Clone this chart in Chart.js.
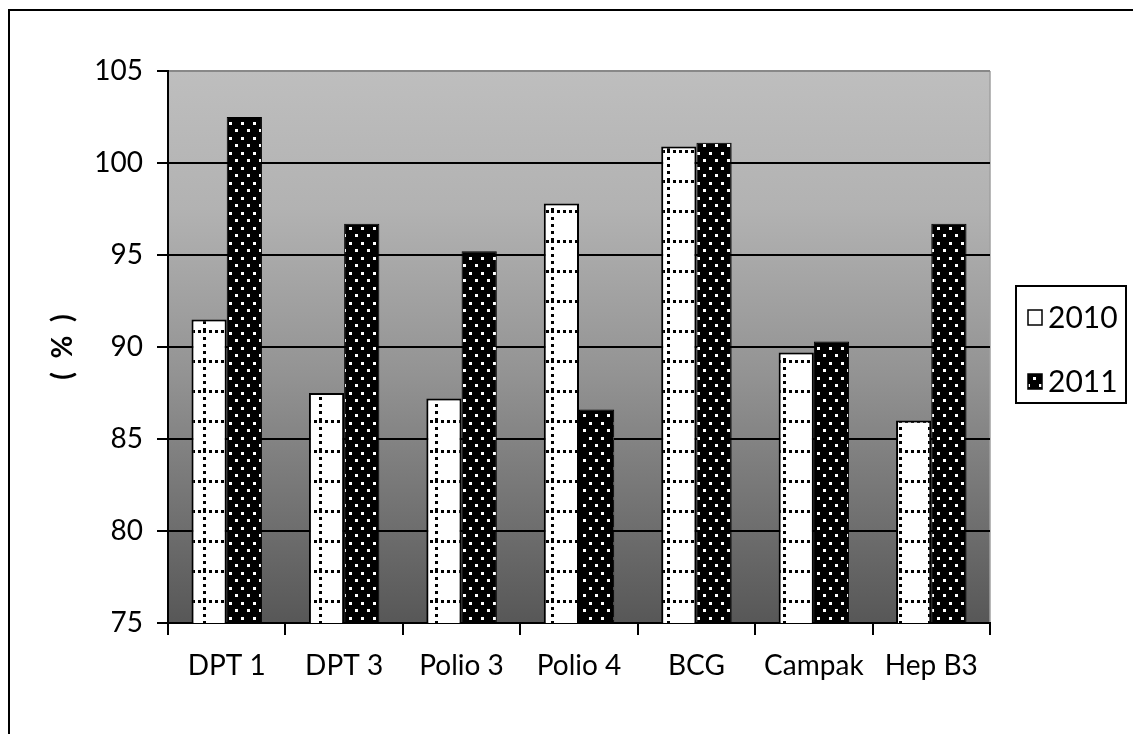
<!DOCTYPE html>
<html>
<head>
<meta charset="utf-8">
<script src="https://cdn.jsdelivr.net/npm/chart.js"></script>
<style>
body{margin:0;background:#fff;}
#wrap{width:1133px;height:734px;}
</style>
</head>
<body>
<div id="wrap"><canvas id="chart" width="1133" height="734"></canvas></div>
<script>

// data
const labels=["DPT 1","DPT 3","Polio 3","Polio 4","BCG","Campak","Hep B3"];
const v2010=[91.5,87.5,87.2,97.8,100.9,89.7,86.0];
const v2011=[102.5,96.7,95.2,86.6,101.1,90.3,96.7];
const seriesNames=["2010","2011"];
const yMin=75,yMax=105,yStep=5;

const FONT="Lato";

function pattern2010(ctx){
const c=document.createElement("canvas");
c.width=29;c.height=30;
const g=c.getContext("2d");
g.fillStyle="#fff";
g.fillRect(0,0,29,30);
g.fillStyle="#000";
for(let x=0;x<29;x+=6)g.fillRect(x,0,3,3);
for(let y=0;y<30;y+=7)g.fillRect(0,y,3,3);
return ctx.createPattern(c,"repeat");
}

function pattern2011(ctx){
const c=document.createElement("canvas");
c.width=12;c.height=15;
const g=c.getContext("2d");
g.fillStyle="#000";
g.fillRect(0,0,12,15);
g.fillStyle="#fff";
g.fillRect(1,2,3,3);
g.fillRect(7,9,3,3);
return ctx.createPattern(c,"repeat");
}

const canvas=document.getElementById("chart");
const ctx=canvas.getContext("2d");
const p2010=pattern2010(ctx);
const p2011=pattern2011(ctx);

const frame={
id:"frame",
beforeDraw(chart){
const c=chart.ctx;
const a=chart.chartArea;
c.save();
c.fillStyle="#fff";
c.fillRect(0,0,chart.width,chart.height);
c.strokeStyle="#000";
c.lineWidth=2;
c.strokeRect(9,10,chart.width+20,chart.height+20);
const gr=c.createLinearGradient(0,a.top,0,a.bottom);
gr.addColorStop(0,"#bebebe");
gr.addColorStop(0.25,"#b2b2b2");
gr.addColorStop(0.55,"#939393");
gr.addColorStop(1,"#575757");
c.fillStyle=gr;
c.fillRect(a.left,a.top,a.right-a.left,a.bottom-a.top);
c.strokeStyle="#a0a0a0";
c.lineWidth=1.5;
c.beginPath();
c.moveTo(a.right,a.top);
c.lineTo(a.right,a.bottom);
c.stroke();
c.restore();
},
afterDraw(chart){
const c=chart.ctx;
c.save();
c.fillStyle="#fff";
c.fillRect(1016,286,110,117);
c.strokeStyle="#000";
c.lineWidth=2;
c.strokeRect(1016,286,110,117);
const rows=[317,381];
chart.data.datasets.forEach((ds,i)=>{
const y=rows[i];
c.fillStyle=ds.backgroundColor;
c.fillRect(1028,y-7,14,15);
c.strokeStyle="#000";
c.lineWidth=1.5;
c.strokeRect(1028,y-7,14,15);
c.fillStyle="#000";
c.font="30px "+FONT;
c.textBaseline="middle";
c.textAlign="left";
c.fillText(ds.label,1048,y+1);
});
c.restore();
}
};

new Chart(canvas,{
type:"bar",
data:{
labels:labels,
datasets:[{
label:seriesNames[0],
data:v2010,
backgroundColor:p2010,
borderColor:"#000",
borderWidth:2
},{
label:seriesNames[1],
data:v2011,
backgroundColor:p2011,
borderColor:"#000",
borderWidth:1
}]
},
options:{
responsive:false,
animation:false,
layout:{padding:{top:71,right:143,bottom:0,left:0}},
plugins:{legend:{display:false},tooltip:{enabled:false}},
datasets:{bar:{categoryPercentage:0.6,barPercentage:1}},
scales:{
x:{
grid:{display:true,drawOnChartArea:false,offset:true,color:"#000",lineWidth:2,tickLength:12},
border:{color:"#000",width:2},
ticks:{color:"#000",font:{family:FONT,size:28},padding:14,maxRotation:0},
afterFit(s){s.height=111;}
},
y:{
min:yMin,
max:yMax,
ticks:{stepSize:yStep,color:"#000",font:{family:FONT,size:28},padding:14},
grid:{color:c=>c.tick&&c.tick.value===yMax?"#888":"#000",tickColor:"#000",lineWidth:2,tickLength:11},
border:{color:"#000",width:2},
title:{display:true,text:"(  %  )",color:"#000",font:{family:FONT,size:28,weight:"bold"},padding:{top:46,bottom:0}},
afterFit(s){s.width=168;}
}
}
},
plugins:[frame]
});

</script>
</body>
</html>
